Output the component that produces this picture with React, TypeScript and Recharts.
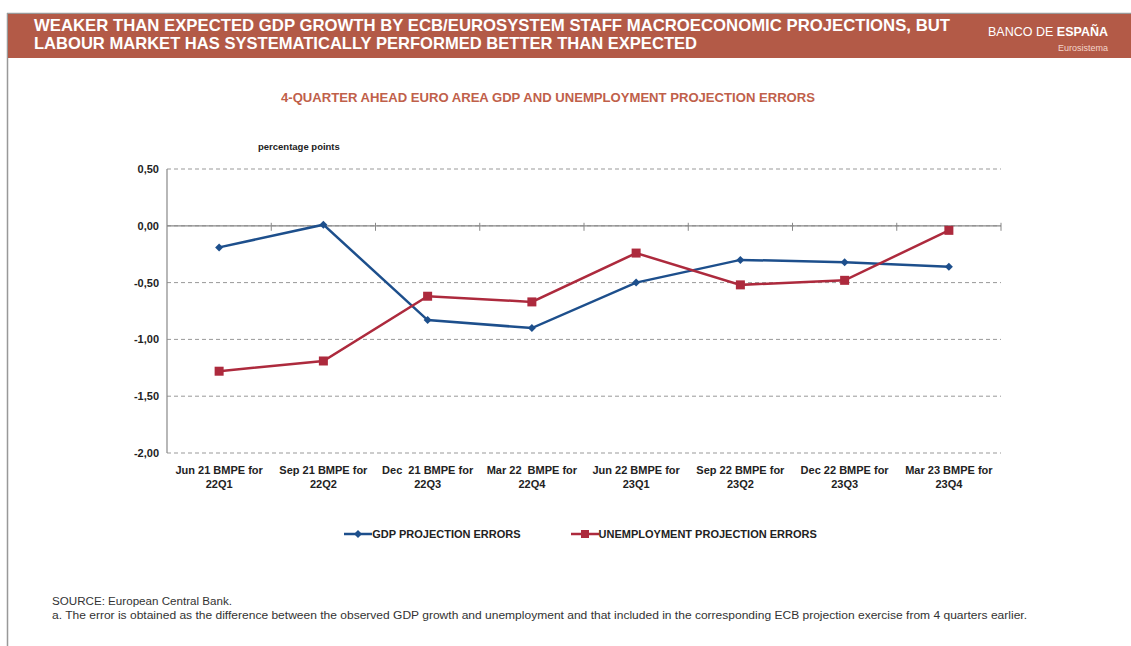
import { LineChart, Line, XAxis, YAxis, CartesianGrid, ReferenceLine } from 'recharts';

const CATEGORIES = [
  'Jun 21 BMPE for|22Q1',
  'Sep 21 BMPE for|22Q2',
  'Dec  21 BMPE for|22Q3',
  'Mar 22  BMPE for|22Q4',
  'Jun 22 BMPE for|23Q1',
  'Sep 22 BMPE for|23Q2',
  'Dec 22 BMPE for|23Q3',
  'Mar 23 BMPE for|23Q4',
];
const GDP_ERRORS = [-0.19, 0.01, -0.83, -0.9, -0.5, -0.3, -0.32, -0.36];
const UNEMPLOYMENT_ERRORS = [-1.28, -1.19, -0.62, -0.67, -0.24, -0.52, -0.48, -0.04];
const Y_TICKS = [-2, -1.5, -1, -0.5, 0, 0.5];

const BLUE = '#1d4f8c';
const RED = '#ad2a3d';
const HEADER = '#b35a47';
const FONT = '"Liberation Sans", Arial, sans-serif';

const data = CATEGORIES.map((c, i) => ({
  name: c,
  gdp: GDP_ERRORS[i],
  unemp: UNEMPLOYMENT_ERRORS[i],
}));

function Diamond(props: any) {
  const { cx, cy } = props;
  if (cx == null || cy == null) return null;
  const r = 4;
  return <polygon points={`${cx},${cy - r} ${cx + r},${cy} ${cx},${cy + r} ${cx - r},${cy}`} fill={BLUE} />;
}

function Square(props: any) {
  const { cx, cy } = props;
  if (cx == null || cy == null) return null;
  return <rect x={cx - 4.5} y={cy - 4.5} width={9} height={9} fill={RED} />;
}

function CategoryTick(props: any) {
  const { x, y, payload } = props;
  const [l1, l2] = String(payload.value).split('|');
  return (
    <text x={x} y={y} textAnchor="middle" fontFamily={FONT} fontSize={11} fontWeight="bold" fill="#222" style={{ whiteSpace: 'pre' }}>
      <tspan x={x} dy={13}>{l1}</tspan>
      <tspan x={x} dy={14}>{l2}</tspan>
    </text>
  );
}

// zero line with the category-boundary ticks
function ZeroLine(props: any) {
  const { x1, y1, x2, y2 } = props;
  const n = CATEGORIES.length;
  const step = (x2 - x1) / n;
  const ticks = [];
  for (let i = 1; i <= n; i++) {
    const tx = x1 + step * i;
    ticks.push(<line key={i} x1={tx} x2={tx} y1={y1 - 3} y2={y1 + 5} stroke="#888" strokeWidth={1} />);
  }
  return (
    <g>
      <line x1={x1} y1={y1} x2={x2} y2={y2} stroke="#888" strokeWidth={1.2} />
      {ticks}
    </g>
  );
}

function LegendContent() {
  const item = (label: string, color: string, square: boolean) => (
    <div style={{ display: 'flex', alignItems: 'center', marginRight: 50 }}>
      <svg width={28} height={10}>
        <line x1={0} y1={5} x2={28} y2={5} stroke={color} strokeWidth={2.5} />
        {square ? (
          <rect x={10} y={1} width={8} height={8} fill={color} />
        ) : (
          <polygon points="14,1 18,5 14,9 10,5" fill={color} />
        )}
      </svg>
      <span style={{ fontFamily: FONT, fontSize: 11, fontWeight: 'bold', color: '#222' }}>{label}</span>
    </div>
  );
  return (
    <div style={{ display: 'flex', justifyContent: 'center', paddingLeft: 80 }}>
      {item('GDP PROJECTION ERRORS', BLUE, false)}
      {item('UNEMPLOYMENT PROJECTION ERRORS', RED, true)}
    </div>
  );
}

export default function App() {
  return (
    <div style={{ position: 'absolute', left: 0, top: 0, width: 1131, height: 646, background: '#fff', overflow: 'hidden' }}>
      <svg width={1131} height={646} style={{ position: 'absolute', left: 0, top: 0 }}>
        <line x1={7.5} y1={13} x2={7.5} y2={646} stroke="#999" strokeWidth={1.5} />
        <line x1={7} y1={13.5} x2={1131} y2={13.5} stroke="#999" strokeWidth={1.5} />
        <rect x={8} y={14} width={1123} height={44} fill={HEADER} />
        <text x={34} y={31} fill="#fff" fontFamily={FONT} fontWeight="bold" fontSize={17} textLength={916} lengthAdjust="spacingAndGlyphs">
          WEAKER THAN EXPECTED GDP GROWTH BY ECB/EUROSYSTEM STAFF MACROECONOMIC PROJECTIONS,  BUT
        </text>
        <text x={34} y={49} fill="#fff" fontFamily={FONT} fontWeight="bold" fontSize={17} textLength={663} lengthAdjust="spacingAndGlyphs">
          LABOUR MARKET HAS SYSTEMATICALLY PERFORMED BETTER THAN EXPECTED
        </text>
        <text x={1108} y={36} textAnchor="end" fill="#fff" fontFamily={FONT} fontSize={13} textLength={120} lengthAdjust="spacingAndGlyphs">
          BANCO DE <tspan fontWeight="bold">ESPAÑA</tspan>
        </text>
        <text x={1108} y={51} textAnchor="end" fill="#f3d6cc" fontFamily={FONT} fontSize={9}>
          Eurosistema
        </text>
        <text x={548} y={102} textAnchor="middle" fill="#c0604a" fontFamily={FONT} fontWeight="bold" fontSize={12} textLength={534} lengthAdjust="spacingAndGlyphs">
          4-QUARTER AHEAD EURO AREA GDP AND UNEMPLOYMENT PROJECTION ERRORS
        </text>
        <text x={258} y={150} fill="#222" fontFamily={FONT} fontSize={9.5} fontWeight="bold">
          percentage points
        </text>
        <text x={52} y={605} fill="#333" fontFamily={FONT} fontSize={10} textLength={180} lengthAdjust="spacingAndGlyphs">
          SOURCE: European Central Bank.
        </text>
        <text x={52} y={619} fill="#333" fontFamily={FONT} fontSize={10} textLength={975} lengthAdjust="spacingAndGlyphs">
          a.   The error is obtained as the difference between the observed GDP growth and unemployment and that included in the corresponding ECB projection exercise from 4 quarters earlier.
        </text>
      </svg>
      <div style={{ position: 'absolute', left: 0, top: 0 }}>
        <LineChart width={1131} height={646} data={data} margin={{ top: 169, right: 130, bottom: 153, left: 107 }}>
          <CartesianGrid vertical={false} stroke="#999" strokeDasharray="4 3" />
          <XAxis dataKey="name" scale="band" axisLine={false} tickLine={false} tick={<CategoryTick />} interval={0} height={40} />
          <YAxis
            domain={[-2, 0.5]}
            ticks={Y_TICKS}
            width={60}
            axisLine={{ stroke: '#888', strokeWidth: 1.2 }}
            tickLine={false}
            tick={{ fontFamily: FONT, fontSize: 11, fontWeight: 'bold', fill: '#222' }}
            tickFormatter={(v: number) => v.toFixed(2).replace('.', ',')}
          />
          <ReferenceLine y={0} shape={<ZeroLine />} />
          <Line dataKey="gdp" stroke={BLUE} strokeWidth={2.5} dot={<Diamond />} activeDot={false} isAnimationActive={false} />
          <Line dataKey="unemp" stroke={RED} strokeWidth={2.5} dot={<Square />} activeDot={false} isAnimationActive={false} />
        </LineChart>
      </div>
      <div style={{ position: 'absolute', left: 0, top: 528, width: 1131 }}>
        <LegendContent />
      </div>
    </div>
  );
}
